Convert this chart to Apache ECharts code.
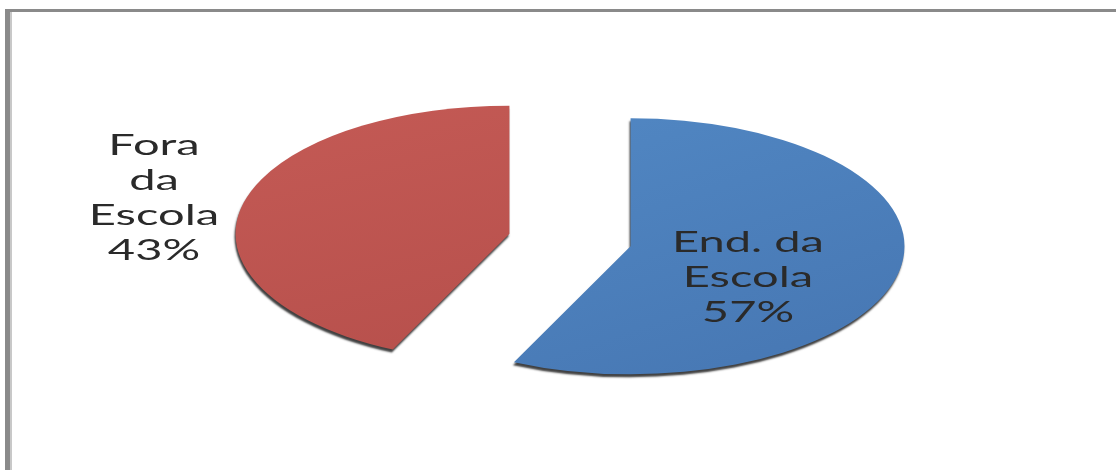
<!DOCTYPE html>
<html>
<head>
<meta charset="utf-8">
<script src="https://cdn.jsdelivr.net/npm/echarts@6/dist/echarts.min.js"></script>
<style>
  html, body { margin: 0; padding: 0; background: #fff; }
  #chart { width: 1116px; height: 470px; }
</style>
</head>
<body>
<div id="chart"></div>
<script>
// dados
const categories = ['End. da Escola', 'Fora da Escola'];
const percentages = [57, 43];
const labelLines = [['End. da', 'Escola'], ['Fora', 'da', 'Escola']];

// layout (pizza "esticada" na horizontal, como na figura original)
const CX = 570, CY = 240;
const R = 128;
const SX = 2.14;          // esticamento horizontal da pizza
const EXPLODE = 29;       // afastamento das fatias
const TEXT_SX = 1.68;     // esticamento do texto
const labelAnchors = [[748, 278], [154, 198]];
const sliceColors = [
  ['#5187c3', '#4676b2'],
  ['#c45a55', '#b7504c']
];

const total = percentages.reduce((a, b) => a + b, 0);

function renderItem(params, api) {
  const i = params.dataIndex;
  let before = 0;
  for (let j = 0; j < i; j++) before += percentages[j];
  const a0 = before / total * Math.PI * 2;
  const a1 = (before + api.value(0)) / total * Math.PI * 2;
  const m = (a0 + a1) / 2;
  const cx = CX + Math.sin(m) * EXPLODE * SX;
  const cy = CY - Math.cos(m) * EXPLODE;
  const text = labelLines[i].concat([api.value(0) + '%']).join('\n');
  return {
    type: 'group',
    children: [
      {
        type: 'sector',
        x: cx, y: cy, scaleX: SX,
        shape: { cx: 0, cy: 0, r0: 0, r: R, startAngle: a0 - Math.PI / 2, endAngle: a1 - Math.PI / 2, clockwise: true },
        style: {
          fill: new echarts.graphic.LinearGradient(0, 0, 1, 1, [
            { offset: 0, color: sliceColors[i][0] },
            { offset: 1, color: sliceColors[i][1] }
          ]),
          shadowBlur: 2,
          shadowColor: 'rgba(0,0,0,0.75)',
          shadowOffsetY: 3,
          shadowOffsetX: -1
        }
      },
      {
        type: 'text',
        x: labelAnchors[i][0], y: labelAnchors[i][1], scaleX: TEXT_SX,
        style: {
          text: text,
          font: '28px Lato, "Liberation Sans", sans-serif',
          fill: '#2a2a2a',
          align: 'center',
          verticalAlign: 'middle',
          lineHeight: 35
        }
      }
    ]
  };
}

const chart = echarts.init(document.getElementById('chart'));
chart.setOption({
  backgroundColor: '#ffffff',
  animation: false,
  graphic: [
    { type: 'rect', shape: { x: 5, y: 9, width: 1111, height: 3 }, style: { fill: '#8a8a8a' } },
    { type: 'rect', shape: { x: 5, y: 9, width: 5, height: 461 }, style: { fill: '#8a8a8a' } },
    { type: 'rect', shape: { x: 10, y: 12, width: 2, height: 458 }, style: { fill: '#c8c8c8' } }
  ],
  series: [{
    type: 'custom',
    coordinateSystem: 'none',
    renderItem: renderItem,
    data: percentages.map((v, i) => ({ name: categories[i], value: [v] }))
  }]
});
</script>
</body>
</html>
